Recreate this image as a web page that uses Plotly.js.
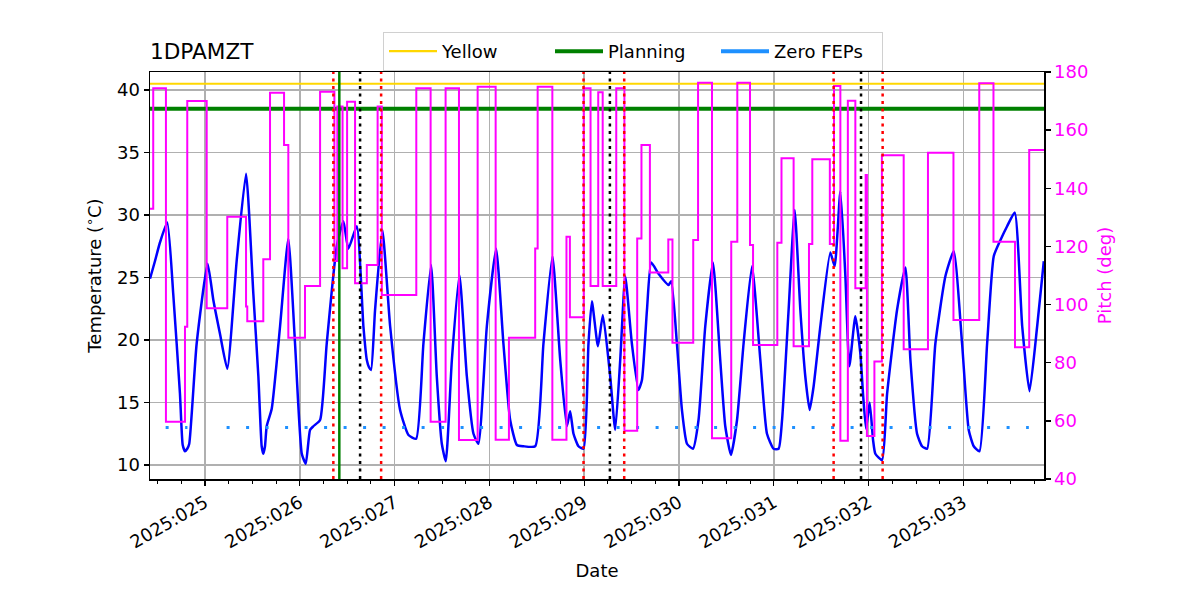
<!DOCTYPE html>
<html>
<head>
<meta charset="utf-8">
<script src="https://cdn.plot.ly/plotly-3.0.1.min.js"></script>
<style>html,body{margin:0;padding:0;background:#fff;}#chart{width:1200px;height:600px;}</style>
</head>
<body>
<div id="chart"></div>
<script>
// ---- data (day of year 2025, fractional) ----
const tickDays = [25, 26, 27, 28, 29, 30, 31, 32, 33];
const tickLabels = ['2025:025', '2025:026', '2025:027', '2025:028', '2025:029', '2025:030', '2025:031', '2025:032', '2025:033'];
const dayRange = [24.42, 33.85];

const tempDays = [
  24.420, 24.472, 24.525, 24.602, 24.665, 24.736, 24.765, 24.789, 24.813, 24.834,
  24.912, 25.028, 25.088, 25.158, 25.235, 25.335, 25.433, 25.510, 25.563, 25.598,
  25.615, 25.633, 25.651, 25.704, 25.792, 25.879, 25.950, 26.021, 26.063, 26.108,
  26.143, 26.214, 26.284, 26.390, 26.460, 26.512, 26.601, 26.671, 26.707, 26.731,
  26.752, 26.794, 26.871, 26.953, 27.058, 27.146, 27.227, 27.304, 27.385, 27.445,
  27.498, 27.540, 27.604, 27.684, 27.762, 27.832, 27.884, 27.973, 28.071, 28.148,
  28.219, 28.290, 28.359, 28.483, 28.570, 28.665, 28.747, 28.817, 28.852, 28.887,
  28.940, 28.993, 29.045, 29.081, 29.145, 29.197, 29.274, 29.327, 29.380, 29.433,
  29.503, 29.573, 29.609, 29.662, 29.707, 29.784, 29.890, 29.918, 29.978, 30.031,
  30.084, 30.147, 30.206, 30.277, 30.358, 30.435, 30.488, 30.548, 30.612, 30.681,
  30.770, 30.858, 30.928, 30.998, 31.051, 31.087, 31.156, 31.220, 31.280, 31.332,
  31.378, 31.420, 31.491, 31.596, 31.642, 31.702, 31.755, 31.797, 31.860, 31.913,
  31.941, 31.973, 32.011, 32.047, 32.071, 32.142, 32.195, 32.300, 32.388, 32.441,
  32.511, 32.564, 32.617, 32.704, 32.810, 32.898, 32.986, 33.056, 33.109, 33.169,
  33.250, 33.320, 33.391, 33.461, 33.541, 33.620, 33.697, 33.778, 33.848
];
const tempValues = [
  24.9, 26.3, 27.8, 29.4, 23.7, 15.7, 11.6, 11.1, 11.3, 11.7,
  19.7, 26.1, 23.2, 20.5, 17.7, 26.4, 33.3, 23.7, 17.1, 11.5,
  10.9, 11.5, 13.1, 14.5, 21.1, 28.1, 19.7, 10.9, 10.1, 12.8,
  13.1, 13.6, 19.7, 27.5, 29.5, 27.3, 29.1, 21.1, 18.4, 17.8,
  17.6, 22.4, 28.8, 21.1, 14.4, 12.4, 12.1, 19.7, 26.0, 17.1,
  11.7, 10.3, 18.4, 25.2, 17.1, 12.5, 11.7, 21.1, 27.3, 19.7,
  13.6, 11.6, 11.5, 11.5, 19.7, 26.7, 18.4, 13.1, 14.3, 12.5,
  11.5, 11.3, 19.7, 23.1, 19.5, 22.0, 17.1, 12.8, 18.4, 25.1,
  19.7, 16.0, 16.8, 22.4, 26.2, 25.3, 24.4, 24.7, 19.7, 14.4,
  11.7, 11.3, 13.6, 21.1, 26.2, 18.4, 13.1, 10.8, 13.6, 19.7,
  25.9, 18.4, 12.5, 11.3, 11.3, 13.6, 22.4, 30.4, 22.4, 17.1,
  14.4, 16.3, 21.1, 27.0, 25.9, 31.9, 25.1, 17.9, 21.9, 18.9,
  15.7, 12.9, 15.0, 12.0, 10.9, 10.4, 15.7, 22.4, 25.8, 18.4,
  12.5, 11.5, 11.3, 19.7, 25.1, 27.1, 19.7, 12.8, 11.5, 11.1,
  19.7, 26.7, 28.0, 29.1, 30.2, 21.1, 15.9, 21.1, 26.3
];

const pitchDays = [
  24.420, 24.454, 24.588, 24.789, 24.813, 25.018, 25.235, 25.433, 25.446, 25.615,
  25.686, 25.834, 25.879, 26.055, 26.214, 26.365, 26.396, 26.451, 26.499, 26.583,
  26.707, 26.821, 26.865, 27.229, 27.380, 27.538, 27.679, 27.876, 28.066, 28.206,
  28.483, 28.509, 28.664, 28.813, 28.849, 28.995, 29.067, 29.148, 29.195, 29.338,
  29.424, 29.559, 29.604, 29.693, 29.887, 29.931, 30.150, 30.201, 30.348, 30.551,
  30.615, 30.749, 30.781, 31.037, 31.081, 31.209, 31.371, 31.406, 31.591, 31.635,
  31.702, 31.781, 31.860, 31.969, 31.982, 32.061, 32.140, 32.370, 32.626, 32.895,
  33.167, 33.317, 33.544, 33.694, 33.850
];
const pitchValues = [
  133.0, 174.4, 59.7, 92.4, 170.0, 98.7, 130.2, 99.3, 94.3, 115.6,
  172.9, 154.9, 88.6, 106.4, 173.2, 115.0, 168.1, 112.5, 169.8, 107.3,
  113.6, 168.1, 103.3, 174.4, 59.7, 174.4, 53.4, 174.9, 53.5, 88.6,
  119.3, 174.9, 53.5, 123.3, 95.6, 174.4, 106.4, 173.0, 106.4, 174.4,
  56.6, 122.7, 154.9, 111.0, 122.4, 86.9, 122.2, 176.3, 54.0, 121.6,
  176.3, 120.5, 86.1, 121.3, 150.3, 85.7, 120.8, 150.0, 120.8, 175.2,
  53.2, 170.1, 105.6, 144.6, 54.8, 80.4, 151.4, 84.6, 152.2, 94.7,
  176.1, 121.6, 85.3, 153.2, 153.2
];

const yellowLimit = 40.5;
const planningLimit = 38.5;
const zeroFepsTemp = 13.0;
const zeroFepsStart = [24.585, 25.228];
const zeroFepsEnd = [24.815, 33.690];

const redEventDays = [26.354, 26.858, 28.993, 29.422, 31.631, 32.148];
const blackEventDays = [26.636, 29.271, 31.920];
const greenEventDays = [26.417];

// ---- build ----
const fepsX = [], fepsY = [];
zeroFepsStart.forEach((s, i) => {
  if (i > 0) { fepsX.push(null); fepsY.push(null); }
  fepsX.push(s, zeroFepsEnd[i]);
  fepsY.push(zeroFepsTemp, zeroFepsTemp);
});

const traces = [
  {x: tempDays, y: tempValues, type: 'scatter', mode: 'lines', yaxis: 'y',
   line: {color: '#0000ff', width: 2.5, shape: 'spline', smoothing: 0.5}, showlegend: false, hoverinfo: 'skip'},
  {x: dayRange, y: [yellowLimit, yellowLimit], type: 'scatter', mode: 'lines', name: 'Yellow',
   line: {color: '#ffd700', width: 2.2}},
  {x: dayRange, y: [planningLimit, planningLimit], type: 'scatter', mode: 'lines', name: 'Planning',
   line: {color: '#008000', width: 4}},
  {x: fepsX, y: fepsY, type: 'scatter', mode: 'lines', showlegend: false,
   line: {color: '#1e90ff', width: 3, dash: '3px,16.5px'}},
  {x: [null], y: [null], type: 'scatter', mode: 'lines', name: 'Zero FEPs',
   line: {color: '#1e90ff', width: 4}},
  {x: pitchDays, y: pitchValues, type: 'scatter', mode: 'lines', yaxis: 'y2',
   line: {color: '#ff00ff', width: 2, shape: 'hv'}, showlegend: false}
];

const shapes = [];
function vline(d, color, dash, width) {
  shapes.push({type: 'line', xref: 'x', yref: 'paper', x0: d, x1: d, y0: 0, y1: 1,
    line: {color: color, width: width, dash: dash}, layer: 'above'});
}
redEventDays.forEach(d => vline(d, '#ff0000', '3px,4.5px', 2.5));
blackEventDays.forEach(d => vline(d, '#000000', '3px,4.5px', 2.5));
greenEventDays.forEach(d => vline(d, '#008000', 'solid', 2.5));

const FAM = 'DejaVu Sans, sans-serif';
const font = {family: FAM, size: 18, color: '#000'};
const layout = {
  width: 1200, height: 600,
  paper_bgcolor: '#fff', plot_bgcolor: '#fff',
  font: font,
  margin: {l: 150, r: 156, t: 72, b: 121, pad: 0},
  title: {text: '1DPAMZT', x: 150 / 1200, xref: 'container', xanchor: 'left',
          y: 1 - 51 / 600, yref: 'container', yanchor: 'middle',
          font: {family: FAM, size: 21.6, color: '#000'}},
  showlegend: true,
  legend: {orientation: 'h', x: (383 - 150) / 894, xanchor: 'left', y: (479 - 32) / 407, yanchor: 'top',
           bordercolor: '#d0d0d0', borderwidth: 1, bgcolor: '#fff',
           itemwidth: 48, entrywidth: 103, entrywidthmode: 'pixels',
           font: {family: FAM, size: 18, color: '#000'}},
  xaxis: {
    range: dayRange, tickmode: 'array', tickvals: tickDays, ticktext: tickLabels,
    tickangle: -30, ticks: 'outside', ticklen: 5, tickwidth: 1.3, tickcolor: '#000',
    showline: true, linecolor: '#000', linewidth: 1.5, mirror: true,
    showgrid: true, gridcolor: '#b0b0b0', gridwidth: 1.5, zeroline: false,
    minor: {tickmode: 'linear', tick0: 25, dtick: 0.25, ticks: 'outside', ticklen: 3,
            tickwidth: 1, tickcolor: '#000', showgrid: false},
    title: {text: 'Date', font: font, standoff: 13}
  },
  yaxis: {
    range: [8.88, 41.44], tickmode: 'linear', tick0: 10, dtick: 5,
    ticks: 'outside', ticklen: 5, tickwidth: 1.3, tickcolor: '#000',
    showline: true, linecolor: '#000', linewidth: 1.5, mirror: true,
    showgrid: true, gridcolor: '#b0b0b0', gridwidth: 1.5, zeroline: false,
    title: {text: 'Temperature (<sup>∘</sup>C)', font: font, standoff: 10}
  },
  yaxis2: {
    overlaying: 'y', side: 'right', range: [40, 180], tickmode: 'linear', tick0: 40, dtick: 20,
    ticks: 'outside', ticklen: 5, tickwidth: 1.3, tickcolor: '#000',
    tickfont: {family: FAM, size: 18, color: '#ff00ff'},
    showline: true, linecolor: '#000', linewidth: 1.5, showgrid: false, zeroline: false,
    title: {text: 'Pitch (deg)', font: {family: FAM, size: 18, color: '#ff00ff'}, standoff: 11}
  },
  shapes: shapes
};

Plotly.newPlot('chart', traces, layout, {staticPlot: true, displayModeBar: false});
</script>
</body>
</html>
